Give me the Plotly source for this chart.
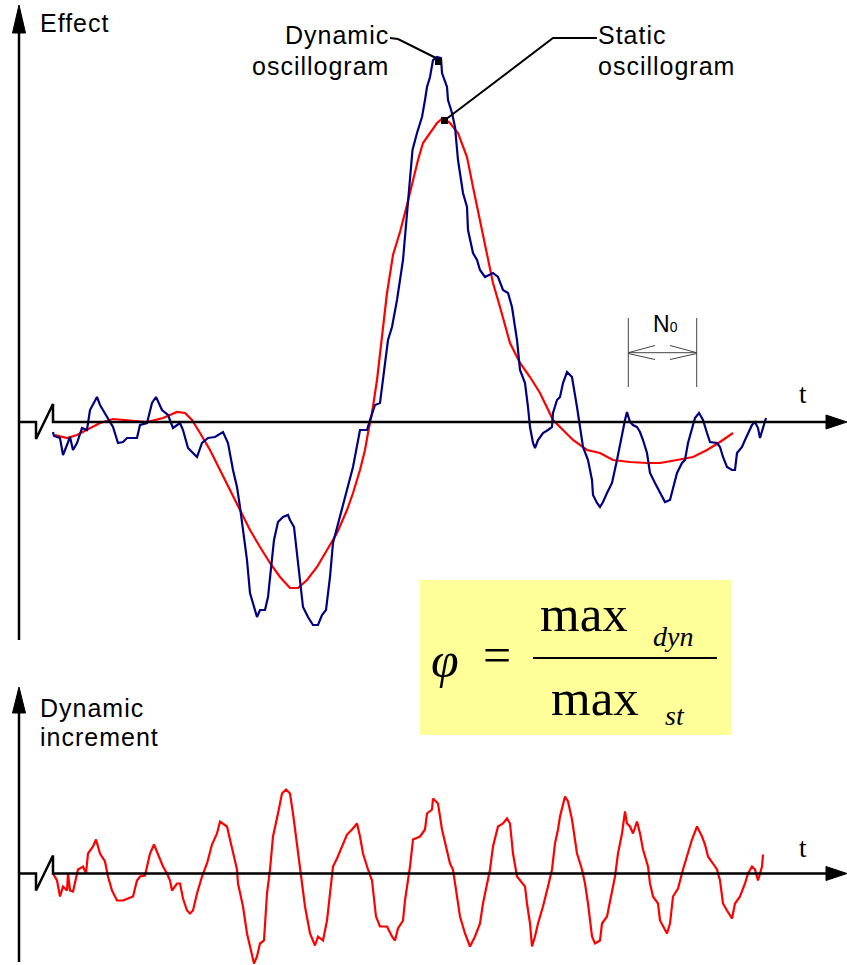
import plotly.graph_objects as go

# ---------------- data (time t, effect values) ----------------
# Dynamic oscillogram (blue), top panel
dyn_t = [53, 54, 60, 63, 67, 70, 73, 77, 82, 87, 90, 97, 100, 107, 113, 118, 123, 127, 137, 140,
         147, 152, 156, 162, 168, 173, 180, 183, 188, 197, 202, 208, 215, 223, 228, 233, 237, 240,
         243, 247, 250, 257, 260, 265, 268, 271, 274, 278, 283, 288, 290, 294, 298, 303, 308, 313,
         318, 322, 326, 330, 333, 340, 347, 353, 360, 367, 370, 375, 380, 383, 388, 392, 397, 403,
         407, 410, 412.5, 417, 422, 425, 427, 430, 433, 437, 441, 442, 447, 448, 452, 455, 458, 463,
         467, 468, 473, 477, 480, 485, 493, 498, 503, 508, 512, 515, 517, 520, 525, 528, 530, 533,
         535, 538, 543, 548, 552, 553, 557, 560, 563, 567, 572, 577, 580, 583, 588, 592, 593, 597,
         600, 603, 607, 612, 617, 622, 625, 627, 630, 633, 637, 640, 643, 647, 650, 655, 660, 665,
         670, 673, 677, 682, 685, 688, 692, 695, 699, 703, 707, 710, 717, 720, 723, 727, 732, 735,
         737, 742, 745, 748, 752, 755, 758, 760, 763, 766]
dyn_v = [-10, -14, -16, -33, -23, -15, -28, -21, -6, -8, 12, 25, 17, 5, -5, -21, -20, -16, -16, -3,
         -1, 19, 25, 12, 7, -6, -1, -8, -26, -35, -21, -16, -15, -10, -21, -48, -65, -85,
         -108, -138, -171, -195, -188, -188, -175, -148, -118, -100, -95, -93, -98, -105, -138, -185, -195, -203,
         -203, -193, -188, -155, -121, -95, -68, -45, -8, -8, 2, 17, 19, 42, 82, 95, 122, 162,
         205, 242, 272, 289, 305, 322, 335, 345, 362, 365, 364, 349, 335, 322, 309, 295, 262, 229,
         215, 192, 169, 162, 152, 145, 149, 145, 132, 129, 115, 95, 82, 52, 39, 15, -5, -21,
         -26, -18, -11, -8, -5, 9, 22, 25, 39, 50, 45, 15, -5, -25, -38, -58, -73, -81,
         -85, -80, -71, -61, -38, -11, 2, 10, 0, -3, -5, -10, -18, -31, -51, -61, -71, -80,
         -78, -65, -51, -41, -38, -21, -5, 4, 9, 2, -11, -20, -21, -25, -35, -45, -48, -48,
         -31, -25, -18, -11, -3, 0, -6, -16, -5, 4]

# Static oscillogram (red), top panel
st_t = [55, 67, 77, 87, 100, 113, 127, 147, 163, 177, 185, 192, 200, 210, 220, 230, 240, 250, 260,
        270, 280, 290, 298, 307, 317, 327, 337, 347, 353, 360, 365, 368, 372, 377, 383, 387, 393,
        400, 407, 413, 418, 423, 430, 437, 443, 450, 458, 467, 473, 480, 487, 493, 500, 505, 510,
        520, 530, 540, 547, 553, 563, 573, 587, 600, 613, 630, 647, 660, 677, 693, 707, 720, 733]
st_v = [-13, -16, -13, -8, -1, 3, 2, 0, 4, 10, 9, 2, -11, -28, -48, -68, -88, -108, -125,
        -141, -155, -166, -166, -158, -145, -128, -111, -88, -71, -48, -28, -11, 9, 42, 92, 129, 167,
        190, 217, 242, 262, 279, 289, 299, 304, 299, 289, 265, 235, 202, 169, 139, 115, 96, 79,
        59, 45, 29, 15, 2, -8, -18, -28, -31, -38, -40, -41, -41, -38, -35, -28, -20, -11]

# Dynamic increment (red), bottom panel
inc_t = [53, 57, 60, 63, 67, 68, 70, 73, 78, 83, 86, 88, 93, 96, 100, 105, 108, 112, 117, 123,
         128, 133, 137, 140, 145, 150, 154, 158, 163, 167, 170, 172, 177, 180, 183, 187, 190, 193,
         197, 202, 207, 212, 217, 220, 227, 230, 233, 237, 238, 243, 247, 250, 254, 257, 260, 264,
         267, 270, 273, 278, 282, 286, 290, 293, 298, 302, 305, 310, 315, 318, 323, 327, 330, 333,
         337, 342, 347, 352, 357, 360, 363, 368, 372, 376, 380, 387, 392, 395, 398, 403, 405, 410,
         413, 420, 425, 427, 432, 433, 438, 442, 447, 450, 453, 457, 460, 465, 470, 475, 480, 483,
         487, 490, 493, 498, 503, 507, 510, 513, 517, 522, 525, 527, 530, 532, 535, 538, 543, 548,
         552, 555, 558, 560, 565, 568, 572, 577, 582, 585, 588, 592, 595, 600, 602, 607, 612, 615,
         618, 622, 625, 627, 630, 633, 637, 640, 643, 648, 650, 653, 658, 660, 667, 670, 673, 678,
         683, 687, 692, 697, 702, 705, 708, 713, 717, 720, 723, 727, 732, 735, 740, 745, 748, 752,
         755, 758, 762, 763]
inc_v = [0, -7, -23, -13, -17, 0, -17, -18, 4, 7, 0, 20, 27, 34, 20, 12, -3, -17, -27, -27,
         -25, -23, -7, -3, -2, 20, 29, 19, 7, 0, -7, -17, -10, -10, -25, -37, -40, -37,
         -20, -3, 10, 29, 40, 52, 47, 34, 20, 4, -10, -33, -60, -73, -90, -83, -70, -67,
         -20, 4, 37, 60, 80, 84, 80, 60, 20, -13, -33, -60, -72, -63, -67, -47, -20, 7,
         15, 27, 39, 44, 50, 37, 20, 4, -7, -43, -53, -53, -63, -67, -55, -47, -27, 7,
         34, 37, 44, 60, 64, 75, 70, 44, 24, 10, 4, -23, -43, -60, -73, -63, -50, -30,
         -10, 4, 27, 47, 50, 55, 50, 20, -3, -10, -13, -30, -50, -73, -63, -50, -33, -13,
         4, 30, 44, 57, 77, 72, 54, 20, 4, -10, -30, -63, -70, -67, -50, -43, -20, -3,
         20, 40, 62, 50, 47, 40, 52, 40, 24, 7, -10, -23, -30, -47, -60, -50, -23, -15,
         4, 17, 34, 47, 37, 29, 17, 10, 4, -7, -30, -37, -45, -30, -23, -10, 0, 7,
         4, -7, 7, 19]

# ---------------- helpers for decoration positions (page pixels) ----------------
TOP0 = 422.0      # pixel row of the top t-axis
BOT0 = 873.5      # pixel row of the bottom t-axis
H = 965


def ty(py):
    return TOP0 - py


BLUE = "#000080"
RED = "#FF0000"
SANS = "Liberation Sans, Arial, sans-serif"
SERIF = "Liberation Serif, Times New Roman, serif"

fig = go.Figure()
fig.add_trace(go.Scatter(x=st_t, y=st_v, mode="lines", line=dict(color=RED, width=2.2),
                         yaxis="y", hoverinfo="skip", name="Static oscillogram"))
fig.add_trace(go.Scatter(x=dyn_t, y=dyn_v, mode="lines", line=dict(color=BLUE, width=2.2),
                         yaxis="y", hoverinfo="skip", name="Dynamic oscillogram"))
fig.add_trace(go.Scatter(x=inc_t, y=inc_v, mode="lines", line=dict(color=RED, width=2.2),
                         yaxis="y2", hoverinfo="skip", name="Dynamic increment"))

shapes = []


def line(x0, y0, x1, y1, w=2.5, c="black"):
    shapes.append(dict(type="line", xref="x", yref="y", x0=x0, y0=ty(y0), x1=x1, y1=ty(y1),
                       line=dict(color=c, width=w)))


def path(pts, fill=None, w=2.5, c="black"):
    d = "M " + " L ".join(f"{x},{ty(y)}" for x, y in pts)
    if fill:
        d += " Z"
    shapes.append(dict(type="path", xref="x", yref="y", path=d,
                       fillcolor=fill if fill else "rgba(0,0,0,0)",
                       line=dict(color=c, width=w if not fill else 1)))


# formula box
shapes.append(dict(type="rect", xref="x", yref="y", x0=420, x1=731, y0=ty(580), y1=ty(735),
                   fillcolor="#FFFF99", line=dict(width=0), layer="below"))

# top axes
line(19, 640, 19, 28)
path([(19, 5), (12.5, 33), (25.5, 33)], fill="black")
path([(19, TOP0), (36, TOP0), (36, TOP0 + 17), (53, TOP0 - 18), (53, TOP0), (830, TOP0)])
path([(847, TOP0), (826, TOP0 - 7), (826, TOP0 + 7)], fill="black")

# bottom axes
line(19, 962, 19, 708)
path([(19, 687), (12.5, 713), (25.5, 713)], fill="black")
path([(19, BOT0), (36, BOT0), (36, BOT0 + 17), (53, BOT0 - 18), (53, BOT0), (830, BOT0)])
path([(847, BOT0), (826, BOT0 - 7), (826, BOT0 + 7)], fill="black")

# leader lines
path([(390, 38), (398, 39), (436, 58)], w=2)
path([(597, 38), (553, 38), (445, 120)], w=2)
shapes.append(dict(type="rect", xref="x", yref="y", x0=435, x1=441.5, y0=ty(58), y1=ty(65),
                   fillcolor="black", line=dict(width=0)))
shapes.append(dict(type="rect", xref="x", yref="y", x0=441, x1=448, y0=ty(117), y1=ty(124),
                   fillcolor="black", line=dict(width=0)))

# N0 period marker
GR = "#444444"
line(628.3, 318, 628.3, 387, w=1, c=GR)
line(696.7, 318, 696.7, 387, w=1, c=GR)
line(628.3, 352.7, 696.7, 352.7, w=1, c=GR)
line(628.3, 352.7, 655, 345.5, w=1, c=GR)
line(628.3, 353.5, 655, 359.5, w=1, c=GR)
line(696.7, 352.7, 670, 345.5, w=1, c=GR)
line(696.7, 353.5, 670, 359.5, w=1, c=GR)

# fraction bar
line(533, 658, 717, 658, w=2)

ann = []


def text(s, x, py, size, font=SANS, xa="left", ya="middle"):
    ann.append(dict(text=s, x=x, y=ty(py), xref="x", yref="y", showarrow=False,
                    xanchor=xa, yanchor=ya, font=dict(family=font, size=size, color="black")))


def sp(s):
    return f'<span style="letter-spacing:1px">{s}</span>'


text(sp("Effect"), 38, 23, 25)
text(sp("Dynamic"), 391, 35, 25, xa="right")
text(sp("oscillogram"), 391, 66, 25, xa="right")
text(sp("Static"), 596, 35, 25)
text(sp("oscillogram"), 596, 66, 25)
text("N<span style=\"font-size:14px\">0</span>", 651, 324, 23)
text("t", 803, 394, 27, font=SERIF, xa="center")
text(sp("Dynamic"), 38, 708, 25)
text(sp("increment"), 38, 737, 25)
text("t", 803, 848, 27, font=SERIF, xa="center")

# formula
text("<i>φ</i>", 445, 660, 50, font=SERIF, xa="center")
text("=", 497, 655, 50, font=SERIF, xa="center")
text("max", 584, 614, 51, font=SERIF, xa="center")
text("<i>dyn</i>", 673, 636, 28, font=SERIF, xa="center")
text("max", 595, 698, 51, font=SERIF, xa="center")
text("<i>st</i>", 675, 715, 28, font=SERIF, xa="center")

fig.update_layout(
    width=847, height=965,
    margin=dict(l=0, r=0, t=0, b=0),
    paper_bgcolor="white", plot_bgcolor="white",
    showlegend=False,
    xaxis=dict(range=[0, 847], domain=[0, 1], visible=False, fixedrange=True),
    yaxis=dict(range=[TOP0 - H, TOP0], domain=[0, 1], visible=False, fixedrange=True),
    yaxis2=dict(range=[BOT0 - H, BOT0], domain=[0, 1], overlaying="y", visible=False,
                fixedrange=True),
    shapes=shapes,
    annotations=ann,
)

fig.write_html("out.html")
